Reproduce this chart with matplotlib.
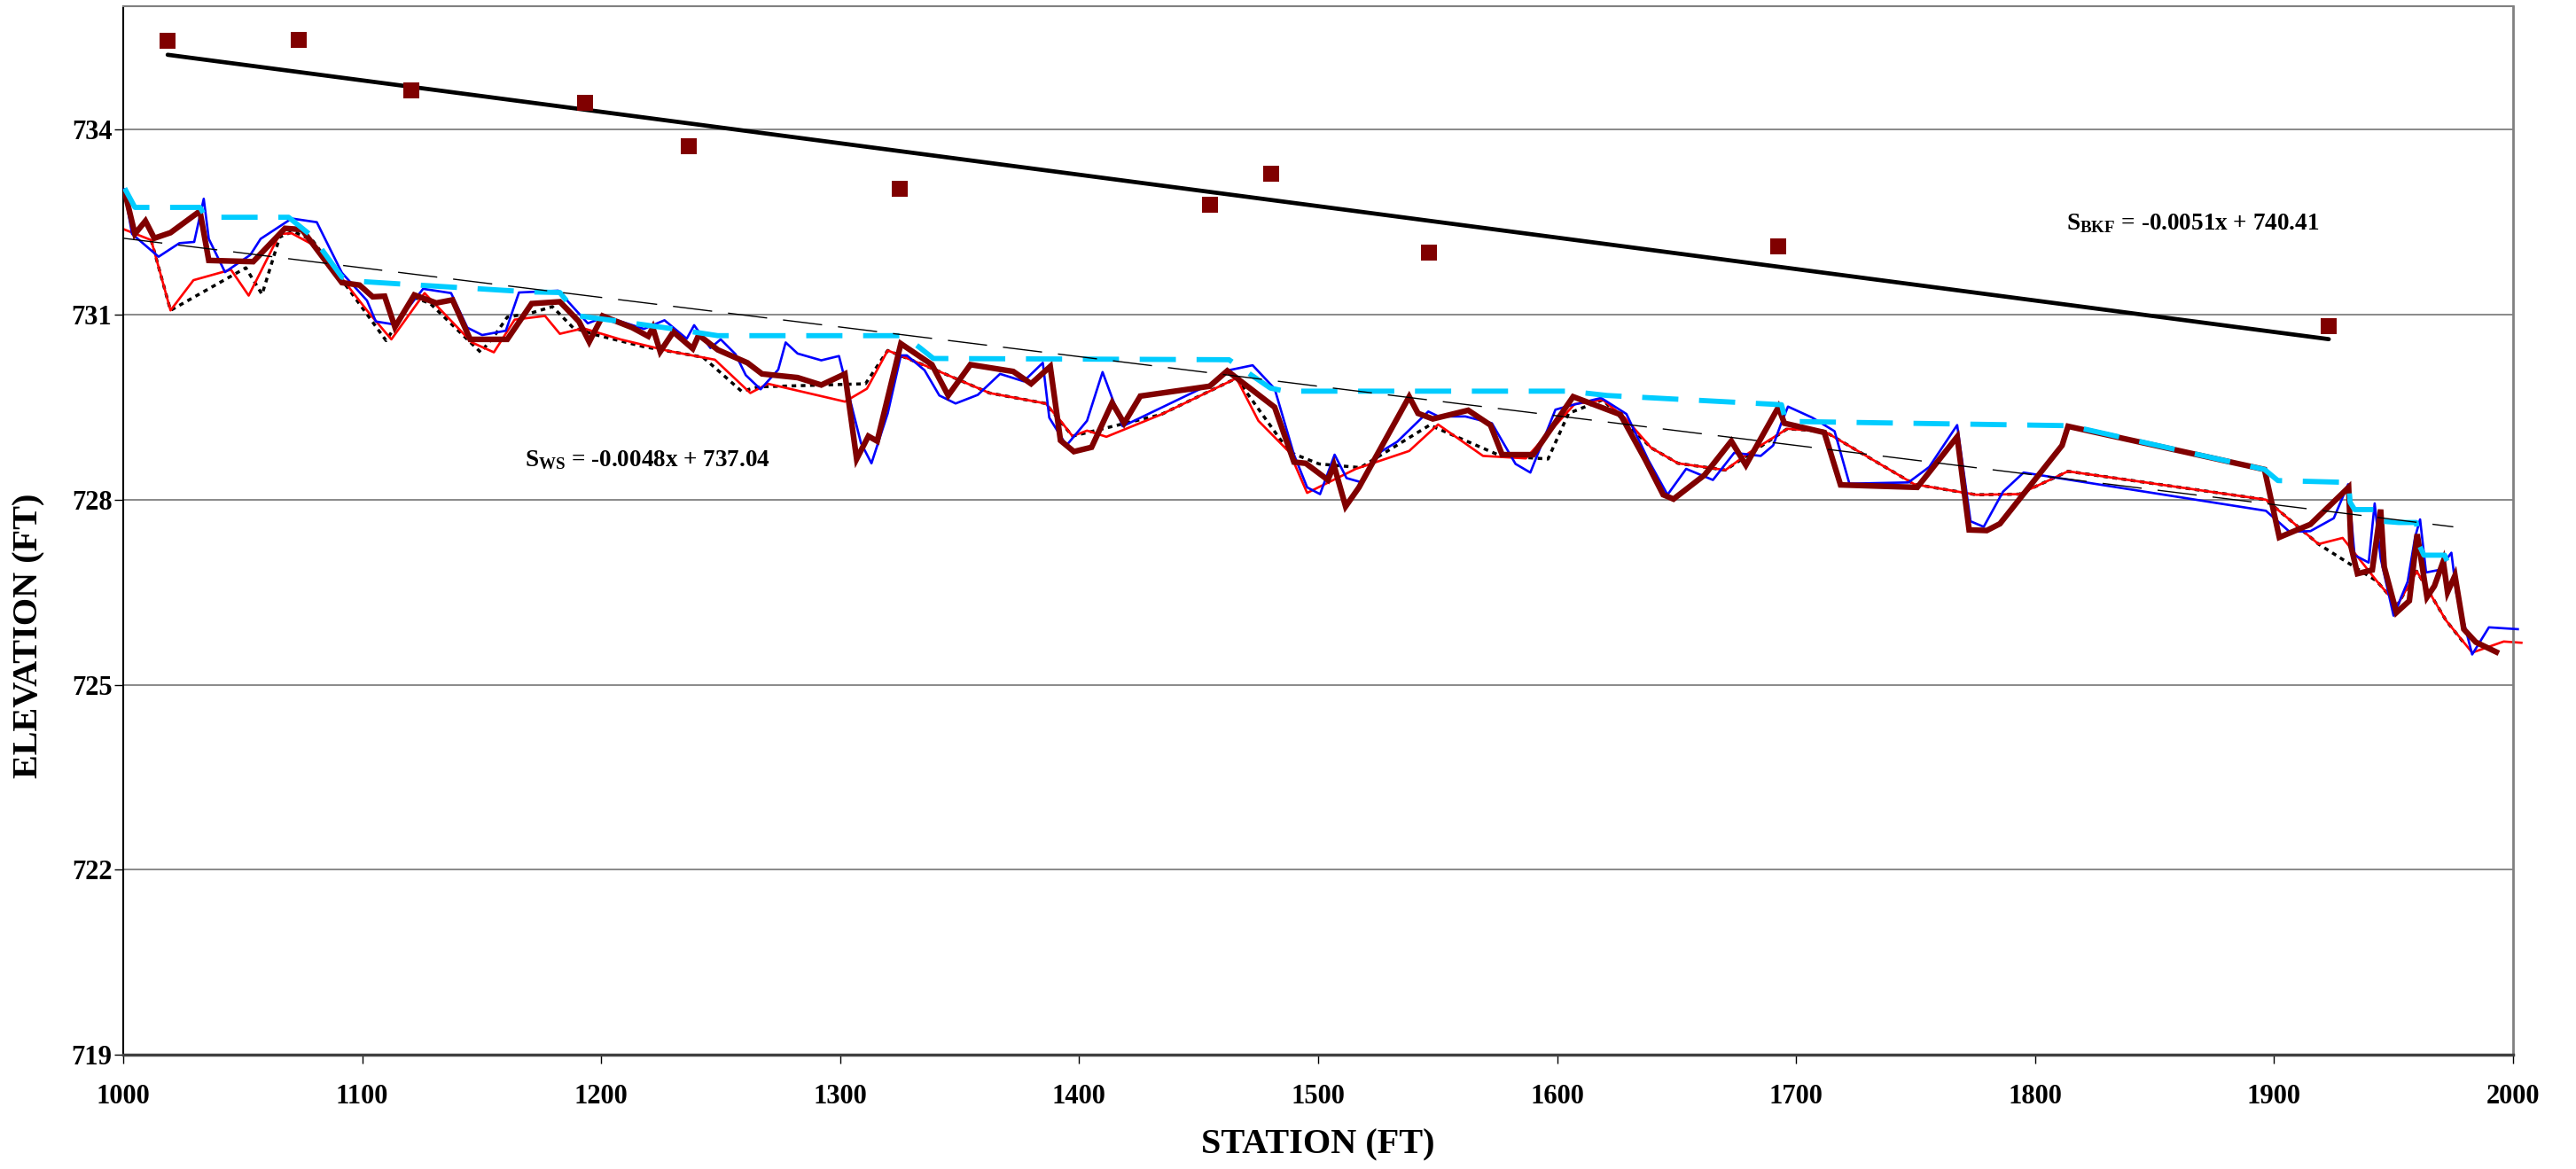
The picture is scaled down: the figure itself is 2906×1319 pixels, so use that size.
import numpy as np
import matplotlib
matplotlib.use("Agg")
import matplotlib.pyplot as plt

plt.rcParams['font.family'] = ['Liberation Serif', 'DejaVu Serif']
plt.rcParams['font.weight'] = 'bold'
plt.rcParams['mathtext.fontset'] = 'custom'
plt.rcParams['mathtext.rm'] = 'Liberation Serif:bold'
plt.rcParams['mathtext.bf'] = 'Liberation Serif:bold'

# BANKFULL POINTS
bkf_sta = [1018.6, 1073.6, 1120.4, 1193.4, 1236.8, 1324.8, 1454.9, 1480.4, 1546.5, 1692.4, 1922.9]
bkf_elev = [735.44, 735.46, 734.64, 734.43, 733.73, 733.04, 732.78, 733.28, 732.00, 732.11, 730.81]

# trendline coefficients as printed on the chart
bkf_slope, bkf_int = -0.0051, 740.41
ws_slope, ws_int = -0.0048, 737.04
ws_trend_range = [1000, 1975]

# THICK MAROON PROFILE
maroon_sta = [1000.6, 1004.9, 1009.3, 1013.0, 1019.8, 1032.1, 1035.8, 1054.4, 1067.7, 1074.8,
              1091.5, 1098.9, 1104.4, 1109.4, 1113.7, 1121.8, 1131.0, 1137.8, 1145.2, 1160.7,
              1170.9, 1182.7, 1190.7, 1195.0, 1200.6, 1213.0, 1219.7, 1221.6, 1224.7, 1230.2,
              1238.3, 1240.8, 1248.8, 1261.2, 1267.3, 1282.2, 1292.1, 1302.0, 1306.9, 1311.8,
              1315.5, 1325.4, 1338.4, 1345.2, 1354.5, 1372.4, 1379.9, 1387.9, 1392.2, 1397.8,
              1405.2, 1413.8, 1418.8, 1425.6, 1454.6, 1462.0, 1481.8, 1489.9, 1494.8, 1504.1,
              1506.6, 1511.5, 1517.1, 1538.1, 1541.8, 1548.0, 1562.8, 1572.1, 1577.0, 1590.0,
              1606.7, 1626.5, 1637.0, 1644.4, 1648.7, 1661.7, 1672.9, 1679.0, 1692.6, 1695.1,
              1711.8, 1718.6, 1750.7, 1767.4, 1772.4, 1779.8, 1785.3, 1811.3, 1813.8, 1896.0,
              1902.2, 1915.2, 1931.2, 1932.2, 1934.9, 1941.1, 1944.6, 1946.1, 1951.2, 1956.6,
              1959.9, 1964.0, 1967.1, 1970.8, 1972.6, 1975.7, 1979.4, 1984.4, 1993.0]
maroon_elev = [733.00, 732.31, 732.52, 732.24, 732.33, 732.68, 731.88, 731.86, 732.40, 732.38,
               731.52, 731.48, 731.29, 731.30, 730.80, 731.32, 731.19, 731.24, 730.60, 730.60,
               731.18, 731.21, 730.89, 730.56, 730.98, 730.79, 730.65, 730.79, 730.40, 730.72,
               730.45, 730.67, 730.43, 730.22, 730.04, 729.98, 729.86, 730.04, 728.66, 729.03,
               728.95, 730.53, 730.19, 729.69, 730.19, 730.08, 729.88, 730.16, 728.96, 728.78,
               728.85, 729.57, 729.24, 729.68, 729.84, 730.09, 729.50, 728.61, 728.59, 728.32,
               728.56, 727.89, 728.20, 729.67, 729.40, 729.31, 729.45, 729.21, 728.73, 728.73,
               729.67, 729.38, 728.64, 728.08, 728.01, 728.40, 728.95, 728.56, 729.50, 729.24,
               729.09, 728.24, 728.20, 729.02, 727.51, 727.50, 727.61, 728.88, 729.19, 728.49,
               727.39, 727.60, 728.20, 727.24, 726.80, 726.86, 727.84, 726.91, 726.17, 726.36,
               727.44, 726.42, 726.60, 727.00, 726.50, 726.77, 725.90, 725.69, 725.53]

# BLUE PROFILE
blue_sta = [1000.4, 1003.7, 1014.8, 1023.5, 1029.7, 1033.7, 1035.8, 1042.6, 1053.2, 1057.5,
            1070.5, 1081.0, 1091.5, 1102.0, 1105.7, 1113.7, 1125.5, 1137.2, 1144.0, 1150.2,
            1160.1, 1165.6, 1182.0, 1194.4, 1201.8, 1217.9, 1226.5, 1235.8, 1238.9, 1245.7,
            1250.0, 1256.2, 1260.5, 1266.7, 1274.1, 1277.2, 1282.2, 1292.1, 1299.5, 1308.7,
            1313.1, 1319.9, 1325.4, 1327.9, 1335.3, 1341.5, 1348.3, 1357.6, 1366.9, 1376.8,
            1384.8, 1387.5, 1394.7, 1403.3, 1409.8, 1418.2, 1455.2, 1462.7, 1472.6, 1481.8,
            1489.9, 1495.4, 1500.8, 1506.9, 1511.9, 1518.3, 1526.3, 1533.1, 1546.1, 1550.4,
            1561.6, 1572.7, 1582.6, 1588.8, 1599.3, 1604.8, 1618.4, 1629.0, 1638.2, 1646.2,
            1654.0, 1665.2, 1674.1, 1685.2, 1690.4, 1693.9, 1696.6, 1706.8, 1716.1, 1722.3,
            1747.0, 1755.7, 1767.4, 1773.0, 1778.5, 1786.6, 1795.2, 1896.6, 1906.5, 1915.2,
            1925.0, 1931.0, 1933.7, 1939.6, 1942.1, 1944.6, 1950.0, 1955.9, 1959.0, 1961.1,
            1963.6, 1968.9, 1974.2, 1976.3, 1982.9, 1989.9, 2002.0]
blue_elev = [733.03, 732.31, 731.94, 732.16, 732.18, 732.88, 732.23, 731.69, 731.97, 732.23,
             732.56, 732.50, 731.68, 731.23, 730.89, 730.84, 731.42, 731.35, 730.79, 730.67,
             730.74, 731.36, 731.39, 730.86, 730.97, 730.77, 730.91, 730.61, 730.83, 730.46,
             730.60, 730.36, 730.02, 729.79, 730.11, 730.55, 730.37, 730.26, 730.33, 728.92,
             728.59, 729.40, 730.34, 730.34, 730.10, 729.69, 729.56, 729.70, 730.04, 729.92,
             730.22, 729.33, 728.88, 729.28, 730.07, 729.19, 729.88, 730.10, 730.18, 729.80,
             728.73, 728.20, 728.09, 728.73, 728.35, 728.28, 728.78, 728.94, 729.43, 729.35,
             729.35, 729.24, 728.58, 728.44, 729.46, 729.52, 729.65, 729.39, 728.64, 728.08,
             728.50, 728.32, 728.76, 728.71, 728.88, 729.25, 729.51, 729.33, 729.11, 728.26,
             728.28, 728.53, 729.21, 727.65, 727.56, 728.13, 728.44, 727.82, 727.48, 727.49,
             727.70, 728.25, 727.10, 726.98, 727.94, 727.05, 726.12, 726.67, 727.39, 727.68,
             726.82, 726.86, 727.14, 726.48, 725.49, 725.93, 725.90]

# RED PROFILE
red_sta = [1000.6, 1011.7, 1019.8, 1029.4, 1045.1, 1052.5, 1065.5, 1070.5, 1079.1, 1091.5,
           1102.6, 1112.2, 1126.1, 1145.9, 1155.1, 1163.8, 1176.5, 1182.7, 1192.5, 1208.0,
           1228.4, 1247.6, 1262.4, 1269.8, 1302.0, 1311.2, 1319.9, 1338.4, 1362.5, 1386.0,
           1392.2, 1397.2, 1403.3, 1411.4, 1434.2, 1450.9, 1465.8, 1475.0, 1488.0, 1495.4,
           1515.8, 1538.1, 1550.2, 1569.0, 1586.9, 1607.3, 1619.1, 1628.3, 1639.4, 1650.6,
           1670.4, 1680.3, 1696.3, 1711.8, 1749.5, 1775.4, 1793.4, 1813.8, 1896.6, 1918.6,
           1928.7, 1943.0, 1951.6, 1959.7, 1972.0, 1982.9, 1996.1, 2003.5]
red_elev = [732.38, 732.21, 731.07, 731.56, 731.73, 731.31, 732.31, 732.32, 732.14, 731.59,
            731.04, 730.60, 731.35, 730.55, 730.39, 730.92, 730.98, 730.69, 730.78, 730.60,
            730.41, 730.27, 729.73, 729.88, 729.59, 729.80, 730.42, 730.13, 729.73, 729.56,
            729.28, 729.03, 729.12, 729.02, 729.38, 729.69, 729.97, 729.28, 728.77, 728.11,
            728.50, 728.79, 729.22, 728.71, 728.67, 729.55, 729.62, 729.33, 728.84, 728.59,
            728.48, 728.76, 729.15, 729.11, 728.25, 728.08, 728.09, 728.46, 728.00, 727.28,
            727.38, 726.68, 726.29, 726.84, 726.04, 725.52, 725.70, 725.68]

# DOTTED BLACK PROFILE
dot_sta = [1011.7, 1019.8, 1051.3, 1058.1, 1065.5, 1071.1, 1079.1, 1095.2, 1110.0, 1121.8,
           1128.5, 1149.6, 1155.7, 1160.7, 1170.9, 1179.6, 1188.2, 1198.1, 1217.9, 1242.6,
           1248.8, 1258.7, 1266.1, 1310.6, 1319.9, 1338.4, 1362.5, 1386.0, 1397.2, 1434.2,
           1465.8, 1488.0, 1500.4, 1517.7, 1546.7, 1576.4, 1596.2, 1604.8, 1619.1, 1639.4,
           1650.6, 1670.4, 1696.3, 1711.8, 1749.5, 1775.4, 1793.4, 1813.8, 1896.6, 1918.6,
           1943.0, 1951.6, 1959.7, 1972.0, 1980.0]
dot_elev = [732.21, 731.07, 731.76, 731.33, 732.26, 732.35, 732.21, 731.37, 730.58, 731.28,
            731.18, 730.39, 730.68, 730.96, 731.03, 731.13, 730.79, 730.67, 730.48, 730.31,
            730.10, 729.76, 729.83, 729.88, 730.42, 730.13, 729.73, 729.56, 729.03, 729.38,
            729.97, 728.77, 728.58, 728.52, 729.21, 728.71, 728.66, 729.40, 729.62, 728.84,
            728.59, 728.48, 729.15, 729.11, 728.25, 728.08, 728.09, 728.46, 728.00, 727.28,
            726.68, 726.29, 726.84, 726.04, 725.65]

# CYAN DASHED PROFILE
cyan_sta = [1000.6, 1004.9, 1032.1, 1034.6, 1069.2, 1079.1, 1091.5, 1098.9, 1123.6, 1170.0,
            1182.7, 1190.7, 1204.3, 1230.2, 1248.8, 1326.7, 1333.5, 1339.0, 1462.7, 1480.0,
            1486.1, 1604.8, 1620.9, 1693.9, 1695.7, 1814.4, 1896.0, 1901.6, 1931.2, 1931.8,
            1933.7, 1944.6, 1945.4, 1952.2, 1959.5, 1960.9, 1962.7, 1971.4, 1972.6]
cyan_elev = [733.05, 732.74, 732.74, 732.58, 732.58, 732.27, 731.61, 731.54, 731.48, 731.37,
             731.36, 730.98, 730.91, 730.77, 730.66, 730.66, 730.46, 730.29, 730.27, 729.81,
             729.76, 729.76, 729.69, 729.54, 729.27, 729.20, 728.49, 728.31, 728.28, 727.96,
             727.84, 727.84, 727.65, 727.63, 727.63, 727.25, 727.10, 727.10, 726.98]

x_ticks = np.arange(1000, 2001, 100)
y_ticks = np.arange(719, 735, 3)


def main():
	fig = plt.figure(figsize=(29.06, 13.19), dpi=100)
	ax = fig.add_axes([0.04783, 0.0978, 0.92773, 0.89675])

	# GRID
	for yv in y_ticks[1:]:
		ax.axhline(yv, color='#808080', lw=1.3, zorder=0)

	ax.plot(dot_sta, dot_elev, color='black', lw=2.5, ls=(0, (1.5, 1.5)), zorder=1)
	ax.plot(red_sta, red_elev, color='#FF0000', lw=1.9, zorder=2, clip_on=False)
	ax.plot(blue_sta, blue_elev, color='#0000FF', lw=1.9, zorder=3, clip_on=False)
	ax.plot(maroon_sta, maroon_elev, color='#800000', lw=4.6, zorder=4,
	        solid_joinstyle='miter')
	ax.plot(cyan_sta, cyan_elev, color='#00CCFF', lw=4.2, ls=(0, (7, 4)), zorder=5)

	# TRENDLINES
	bx = np.array([min(bkf_sta), max(bkf_sta)])
	ax.plot(bx, bkf_slope * bx + bkf_int, color='black', lw=3.4, zorder=6,
	        solid_capstyle='round')
	wx = np.array(ws_trend_range)
	ax.plot(wx, ws_slope * wx + ws_int, color='black', lw=1.0, ls=(0, (32, 13)), zorder=6)

	ax.scatter(bkf_sta, bkf_elev, marker='s', s=150, color='#800000', zorder=7, linewidths=0)

	ax.text(1813.2, 732.38, r'$\mathbf{S_{BKF}}$' + ' = -0.0051x + 740.41',
	        fontsize=19.5, fontweight='bold', va='baseline', ha='left')
	ax.text(1168.0, 728.54, r'$\mathbf{S_{WS}}$' + ' = -0.0048x + 737.04',
	        fontsize=19.5, fontweight='bold', va='baseline', ha='left')

	ax.set_xlim(1000, 2000)
	ax.set_ylim(719, 736)
	ax.set_xticks(x_ticks)
	ax.set_yticks(y_ticks)
	ax.tick_params(axis='x', direction='out', length=7, width=1, pad=17, labelsize=22)
	ax.tick_params(axis='y', direction='out', length=7, width=1, pad=2, labelsize=22)
	for lab in ax.get_xticklabels() + ax.get_yticklabels():
		lab.set_fontweight('bold')

	ax.spines['left'].set_color('black')
	ax.spines['left'].set_linewidth(1.5)
	ax.spines['bottom'].set_color('#404040')
	ax.spines['bottom'].set_linewidth(2.5)
	ax.spines['top'].set_color('#808080')
	ax.spines['top'].set_linewidth(1.5)
	ax.spines['right'].set_color('#808080')
	ax.spines['right'].set_linewidth(2)

	ax.set_xlabel('STATION (FT)', fontsize=29, fontweight='bold')
	ax.set_ylabel('ELEVATION (FT)', fontsize=29, fontweight='bold')
	ax.xaxis.set_label_coords(0.5, -0.0862)
	ax.yaxis.set_label_coords(-0.0393, 0.40)
	for lab in (ax.xaxis.label, ax.yaxis.label):
		lab.set_va('center')

	fig.savefig('out.png', dpi=100)


if __name__ == '__main__':
	main()
